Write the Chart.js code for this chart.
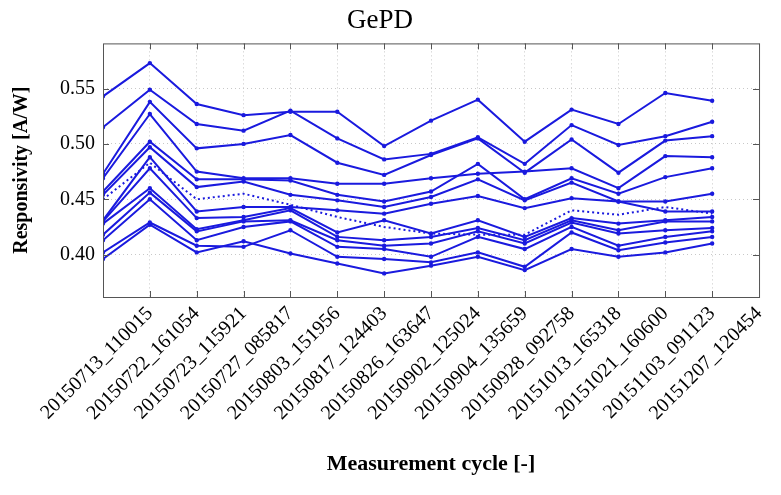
<!DOCTYPE html>
<html>
<head>
<meta charset="utf-8">
<title>GePD</title>
<script src="https://cdn.jsdelivr.net/npm/chart.js@4.4.0/dist/chart.umd.min.js"></script>
<style>
  html, body { margin: 0; padding: 0; background: #fff; }
  #wrap { width: 781px; height: 495px; }
</style>
</head>
<body>
<div id="wrap"><canvas id="chartCanvas" width="781" height="495"></canvas></div>
<script>
// ===========================
// 数据
// ===========================

// 测量周期 (x 轴标签)
const categories = [
  "20150713_110015", "20150722_161054", "20150723_115921", "20150727_085817",
  "20150803_151956", "20150817_124403", "20150826_163647", "20150902_125024",
  "20150904_135659", "20150928_092758", "20151013_165318", "20151021_160600",
  "20151103_091123", "20151207_120454"
];

const yTicks = [0.40, 0.45, 0.50, 0.55];

// 每个器件的响应度 [A/W]
const pd01 = [0.543, 0.573, 0.536, 0.526, 0.529, 0.529, 0.498, 0.521, 0.540, 0.502, 0.531, 0.518, 0.546, 0.539];
const pd02 = [0.515, 0.549, 0.518, 0.512, 0.530, 0.505, 0.486, 0.491, 0.506, 0.482, 0.517, 0.499, 0.507, 0.520];
const pd03 = [0.473, 0.538, 0.496, 0.500, 0.508, 0.483, 0.472, 0.490, 0.505, 0.474, 0.504, 0.474, 0.503, 0.507];
const pd04 = [0.469, 0.527, 0.475, 0.469, 0.469, 0.464, 0.464, 0.469, 0.473, 0.475, 0.478, 0.460, 0.489, 0.488];
const pd05 = [0.457, 0.502, 0.468, 0.468, 0.467, 0.454, 0.448, 0.457, 0.482, 0.450, 0.469, 0.455, 0.470, 0.478];
const pd06 = [0.454, 0.497, 0.461, 0.466, 0.454, 0.449, 0.443, 0.452, 0.468, 0.449, 0.465, 0.448, 0.448, 0.455];
const pd07 = [0.431, 0.488, 0.439, 0.443, 0.443, 0.440, 0.437, 0.446, 0.453, 0.442, 0.451, 0.448, 0.439, 0.439];
const pd08 = [0.430, 0.478, 0.433, 0.434, 0.442, 0.420, 0.431, 0.419, 0.431, 0.416, 0.433, 0.428, 0.431, 0.434];
const pd09 = [0.428, 0.460, 0.423, 0.431, 0.440, 0.416, 0.413, 0.416, 0.424, 0.413, 0.431, 0.422, 0.430, 0.430];
const pd10 = [0.418, 0.456, 0.421, 0.430, 0.431, 0.413, 0.408, 0.410, 0.421, 0.410, 0.429, 0.419, 0.422, 0.424];
const pd11 = [0.413, 0.450, 0.413, 0.425, 0.430, 0.407, 0.405, 0.398, 0.416, 0.405, 0.425, 0.408, 0.416, 0.421];
const pd12 = [0.402, 0.429, 0.408, 0.407, 0.422, 0.398, 0.396, 0.393, 0.402, 0.389, 0.420, 0.404, 0.411, 0.416];
const pd13 = [0.396, 0.427, 0.402, 0.412, 0.401, 0.392, 0.383, 0.390, 0.398, 0.386, 0.405, 0.398, 0.402, 0.410];
// 虚线那条
const pdDotted = [0.450, 0.483, 0.450, 0.455, 0.445, 0.434, 0.425, 0.419, 0.418, 0.418, 0.440, 0.436, 0.443, 0.437];

const solidSeries = [pd01, pd02, pd03, pd04, pd05, pd06, pd07, pd08, pd09, pd10, pd11, pd12, pd13];

// ===========================
// 绘图
// ===========================
const BLUE = "rgb(26,26,222)";
const SERIF = "'Liberation Serif', 'DejaVu Serif', serif";

function toPoints(arr){
  return arr.map((v, i) => ({ x: i, y: v }));
}

const datasets = solidSeries.map(arr => ({
  data: toPoints(arr),
  borderColor: BLUE,
  backgroundColor: BLUE,
  borderWidth: 2,
  pointRadius: 1.2,
  tension: 0
}));
datasets.push({
  data: toPoints(pdDotted),
  borderColor: BLUE,
  backgroundColor: BLUE,
  borderWidth: 2,
  borderDash: [2, 3],
  pointRadius: 0,
  tension: 0
});

// 外框 + 内向刻度 (MATLAB 风格)
const boxPlugin = {
  id: "box",
  afterDraw(chart){
    const { ctx, chartArea: a, scales } = chart;
    ctx.save();
    ctx.strokeStyle = "#555";
    ctx.lineWidth = 1;
    ctx.strokeRect(a.left + 0.5, a.top + 0.5, a.right - a.left, a.bottom - a.top);
    ctx.beginPath();
    for(let i = 1; i < categories.length; i++){
      const x = Math.round(scales.x.getPixelForValue(i)) + 0.5;
      ctx.moveTo(x, a.bottom); ctx.lineTo(x, a.bottom - 6);
      ctx.moveTo(x, a.top); ctx.lineTo(x, a.top + 6);
    }
    yTicks.forEach(v => {
      const y = Math.round(scales.y.getPixelForValue(v)) + 0.5;
      ctx.moveTo(a.left, y); ctx.lineTo(a.left + 6, y);
      ctx.moveTo(a.right, y); ctx.lineTo(a.right - 6, y);
    });
    ctx.stroke();
    ctx.restore();
  }
};

const ctx = document.getElementById("chartCanvas").getContext("2d");
window.myChart = new Chart(ctx, {
  type: "line",
  data: { datasets: datasets },
  options: {
    responsive: false,
    animation: false,
    layout: { padding: { left: 0, right: 21, top: 0, bottom: 0 } },
    plugins: {
      legend: { display: false },
      tooltip: { enabled: false },
      title: {
        display: true,
        text: "GePD",
        color: "#000",
        font: { family: SERIF, size: 27, weight: "normal" },
        lineHeight: 1.1,
        padding: { top: 5, bottom: 6 }
      }
    },
    scales: {
      x: {
        type: "linear",
        min: 0,
        max: categories.length,
        afterBuildTicks(scale){
          scale.ticks = categories.map((c, i) => ({ value: i + 1 }));
        },
        afterFit(scale){ scale.height = 198; },
        grid: { color: "#c8c8c8", drawTicks: false, lineWidth: 1 },
        border: { display: false, dash: [1, 3] },
        ticks: {
          autoSkip: false,
          minRotation: 45,
          maxRotation: 45,
          padding: 5,
          color: "#000",
          font: { family: SERIF, size: 20 },
          callback: v => categories[v - 1] || ""
        },
        title: {
          display: true,
          text: "Measurement cycle [-]",
          color: "#000",
          font: { family: SERIF, size: 22, weight: "bold" },
          padding: { top: 0, bottom: 17 }
        }
      },
      y: {
        min: 0.3617,
        max: 0.5908,
        afterBuildTicks(scale){
          scale.ticks = yTicks.map(v => ({ value: v }));
        },
        afterFit(scale){ scale.width = 103; },
        grid: { color: "#c8c8c8", drawTicks: false, lineWidth: 1 },
        border: { display: false, dash: [1, 3] },
        ticks: {
          padding: 8,
          color: "#000",
          font: { family: SERIF, size: 20 },
          callback: v => v.toFixed(2)
        },
        title: {
          display: true,
          text: "Responsivity [A/W]",
          color: "#000",
          font: { family: SERIF, size: 20, weight: "bold" },
          padding: { top: 10, bottom: 0 }
        }
      }
    }
  },
  plugins: [boxPlugin]
});
</script>
</body>
</html>
